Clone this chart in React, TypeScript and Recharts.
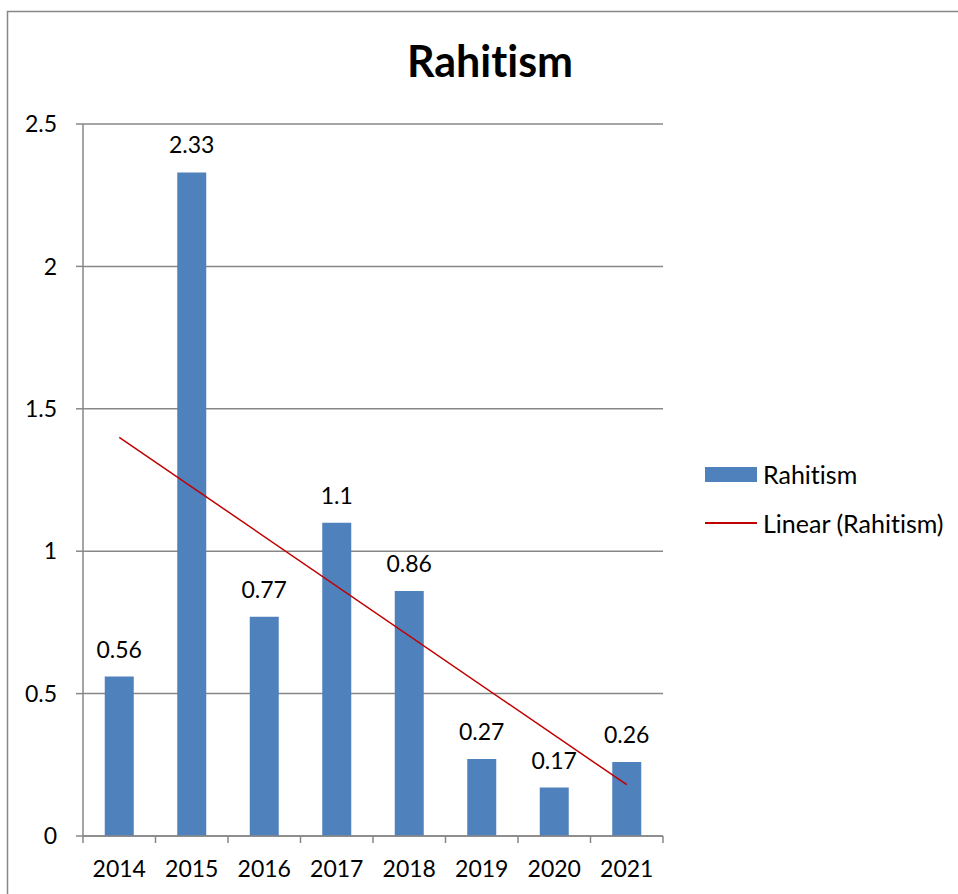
import { ComposedChart, Bar, Line, XAxis, YAxis, CartesianGrid, LabelList } from 'recharts'

const YEARS = ['2014', '2015', '2016', '2017', '2018', '2019', '2020', '2021']
const RAHITISM = [0.56, 2.33, 0.77, 1.1, 0.86, 0.27, 0.17, 0.26]
// trendline end points (Excel "Linear" trendline)
const TREND = [1.4, null, null, null, null, null, null, 0.18]
const Y_TICKS = [0, 0.5, 1, 1.5, 2, 2.5]

const data = YEARS.map((year, i) => ({ year, rahitism: RAHITISM[i], trend: TREND[i] }))

const FONT = 'Lato, "Noto Sans", sans-serif'
const GRID = '#878787'
const BAR = '#4F81BD'
const TREND_COLOR = '#C00000'

const W = 958
const H = 894
const PLOT_LEFT = 83
const PLOT_RIGHT = 663
const BAND = (PLOT_RIGHT - PLOT_LEFT) / YEARS.length

const noLig = { fontVariantLigatures: 'none' as const, fontFeatureSettings: '"liga" 0, "clig" 0, "dlig" 0' }

// category tick: label in the middle, tick marks on the band edges like Excel
function YearTick(props: any) {
  const { x, y, payload, index } = props
  return (
    <g>
      <line x1={x - BAND / 2} x2={x - BAND / 2} y1={y - 8} y2={y - 1} stroke={GRID} strokeWidth={1.5} />
      {index === YEARS.length - 1 && (
        <line x1={x + BAND / 2} x2={x + BAND / 2} y1={y - 8} y2={y - 1} stroke={GRID} strokeWidth={1.5} />
      )}
      <text x={x} y={y + 33} textAnchor="middle" fontSize={23} fill="#000" fontFamily={FONT}>
        {payload.value}
      </text>
    </g>
  )
}

function LegendBox() {
  return (
    <div style={{ position: 'absolute', left: 705, top: 459, fontFamily: FONT, fontSize: 25, color: '#000', ...noLig }}>
      <div style={{ display: 'flex', alignItems: 'center', height: 30 }}>
        <span style={{ display: 'inline-block', width: 52, height: 15, background: BAR, marginRight: 6 }} />
        <span>Rahitism</span>
      </div>
      <div style={{ display: 'flex', alignItems: 'center', height: 30, marginTop: 19 }}>
        <span style={{ display: 'inline-block', width: 52, height: 2, background: TREND_COLOR, marginRight: 6 }} />
        <span>Linear (Rahitism)</span>
      </div>
    </div>
  )
}

export default function App() {
  return (
    <div style={{ position: 'fixed', left: 0, top: 0, width: W, height: H, background: '#fff' }}>
      <svg width={W} height={H} style={{ position: 'absolute', left: 0, top: 0, pointerEvents: 'none' }}>
        <path d={`M7.5 ${H} V11.5 H${W}`} fill="none" stroke={GRID} strokeWidth={1.5} />
        <text x={490} y={77} textAnchor="middle" fontSize={43} fontWeight="bold" fontFamily={FONT} fill="#000" style={noLig}>
          Rahitism
        </text>
      </svg>
      <div style={{ position: 'absolute', left: 0, top: 0 }}>
        <ComposedChart
          width={W}
          height={H}
          data={data}
          margin={{ top: 124, right: W - PLOT_RIGHT, bottom: 0, left: 0 }}
          barCategoryGap="30%"
        >
          <CartesianGrid vertical={false} stroke={GRID} strokeWidth={1.5} />
          <XAxis
            dataKey="year"
            height={58}
            axisLine={{ stroke: GRID, strokeWidth: 1.5 }}
            tickLine={false}
            tick={<YearTick />}
            interval={0}
          />
          <YAxis
            width={PLOT_LEFT}
            domain={[0, 2.5]}
            ticks={Y_TICKS}
            axisLine={{ stroke: GRID, strokeWidth: 1.5 }}
            tickLine={{ stroke: GRID, strokeWidth: 1.5 }}
            tickSize={7}
            tickMargin={19}
            tick={{ fontSize: 23, fill: '#000', fontFamily: FONT }}
          />
          <Bar dataKey="rahitism" name="Rahitism" fill={BAR} isAnimationActive={false}>
            <LabelList dataKey="rahitism" position="top" offset={19} fontSize={23} fill="#000" fontFamily={FONT} />
          </Bar>
          <Line
            dataKey="trend"
            name="Linear (Rahitism)"
            stroke={TREND_COLOR}
            strokeWidth={1.5}
            dot={false}
            activeDot={false}
            connectNulls
            isAnimationActive={false}
          />
        </ComposedChart>
      </div>
      <LegendBox />
    </div>
  )
}
